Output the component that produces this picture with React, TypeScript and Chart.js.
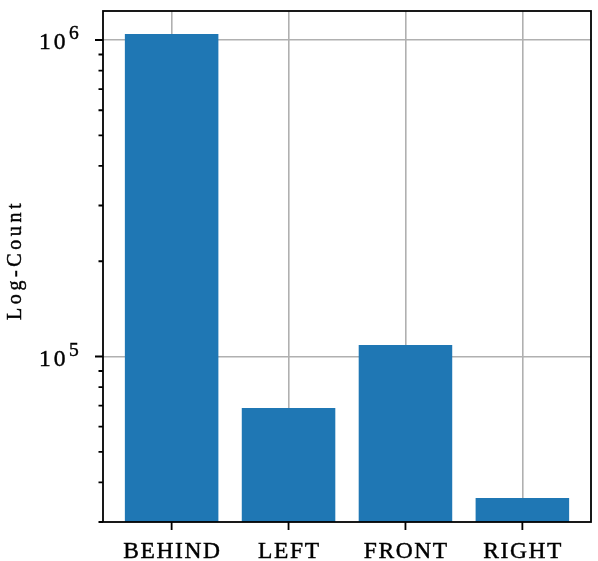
import React, { useEffect, useRef } from "react";
import { Chart, registerables } from "chart.js";

Chart.register(...registerables);

const categories = ["BEHIND", "LEFT", "FRONT", "RIGHT"];
const counts = [1045000, 68700, 108700, 35700];
const majorTicks = [1e5, 1e6];
const majorTickLabels = ["5", "6"];
const minorMultipliers = [2, 3, 4, 5, 6, 7, 8, 9];
const decades = [1e4, 1e5];

const Y_MIN = 30000;
const Y_MAX = 1.235e6;
const X_MIN = -0.587;
const X_MAX = 3.587;

const SERIF = '"Liberation Serif", "Times New Roman", serif';

function heavyText(ctx: CanvasRenderingContext2D, s: string, x: number, y: number) {
  ctx.fillText(s, x, y);
  ctx.strokeText(s, x, y);
}

const overlay = {
  id: "overlay",
  afterDraw(chart: any) {
    const ctx = chart.ctx as CanvasRenderingContext2D;
    const { left, right, top, bottom } = chart.chartArea;
    const xs = chart.scales.x;
    const ys = chart.scales.y;
    ctx.save();
    ctx.strokeStyle = "#000";
    ctx.lineWidth = 1.8;
    // frame
    ctx.strokeRect(left, top, right - left, bottom - top);
    // x ticks
    ctx.beginPath();
    categories.forEach((_, i) => {
      const px = xs.getPixelForValue(i);
      ctx.moveTo(px, bottom);
      ctx.lineTo(px, bottom + 8);
    });
    // y major ticks
    majorTicks.forEach((v) => {
      const py = ys.getPixelForValue(v);
      ctx.moveTo(left, py);
      ctx.lineTo(left - 8, py);
    });
    // y minor ticks
    decades.forEach((d) => {
      minorMultipliers.forEach((m) => {
        const v = d * m;
        if (v < Y_MIN - 1 || v > Y_MAX) return;
        const py = ys.getPixelForValue(v);
        ctx.moveTo(left, py);
        ctx.lineTo(left - 4.5, py);
      });
    });
    ctx.stroke();

    ctx.fillStyle = "#000";
    ctx.strokeStyle = "#000";
    ctx.lineWidth = 0.45;
    (ctx as any).letterSpacing = "1.6px";
    ctx.font = `23.5px ${SERIF}`;
    ctx.textAlign = "center";
    ctx.textBaseline = "alphabetic";
    categories.forEach((c, i) => {
      const px = xs.getPixelForValue(i);
      heavyText(ctx, c, px + 0.8, 558);
    });

    // y tick labels 10^n
    ctx.textAlign = "left";
    majorTicks.forEach((v, i) => {
      const py = ys.getPixelForValue(v);
      (ctx as any).letterSpacing = "3px";
      ctx.font = `23.5px ${SERIF}`;
      heavyText(ctx, "10", 39, py + 9.3);
      (ctx as any).letterSpacing = "0px";
      ctx.font = `19.5px ${SERIF}`;
      heavyText(ctx, majorTickLabels[i], 69, py - 0.7);
    });

    // y axis title
    ctx.save();
    ctx.translate(20.5, 261.7);
    ctx.rotate(-Math.PI / 2);
    (ctx as any).letterSpacing = "3.6px";
    ctx.font = `20px ${SERIF}`;
    ctx.textAlign = "center";
    heavyText(ctx, "Log-Count", 1.8, 0);
    ctx.restore();

    ctx.restore();
  },
};

export default function App() {
  const ref = useRef<HTMLCanvasElement>(null);
  useEffect(() => {
    document.body.style.margin = "0";
    const canvas = ref.current!;
    const chart = new Chart(canvas, {
      type: "bar",
      data: {
        datasets: [
          {
            data: counts.map((v, i) => ({ x: i, y: v })),
            backgroundColor: "#1f77b4",
            borderWidth: 0,
            categoryPercentage: 1,
            barPercentage: 0.8,
          },
        ],
      },
      options: {
        animation: false,
        responsive: false,
        devicePixelRatio: 1,
        layout: { padding: { left: 103, right: 7, top: 11, bottom: 39 } },
        plugins: { legend: { display: false }, tooltip: { enabled: false } },
        scales: {
          x: {
            type: "linear",
            offset: false,
            min: X_MIN,
            max: X_MAX,
            afterBuildTicks: (scale: any) => {
              scale.ticks = categories.map((_, i) => ({ value: i }));
            },
            ticks: { display: false },
            grid: { color: "#b0b0b0", lineWidth: 1.6, drawTicks: false, offset: false },
            border: { display: false },
          },
          y: {
            type: "logarithmic",
            min: Y_MIN,
            max: Y_MAX,
            afterBuildTicks: (scale: any) => {
              scale.ticks = majorTicks.map((v) => ({ value: v }));
            },
            ticks: { display: false },
            grid: { color: "#b0b0b0", lineWidth: 1.6, drawTicks: false },
            border: { display: false },
          },
        },
      },
      plugins: [overlay],
    } as any);
    return () => chart.destroy();
  }, []);
  return <canvas ref={ref} width={598} height={561} style={{ display: "block" }} />;
}
